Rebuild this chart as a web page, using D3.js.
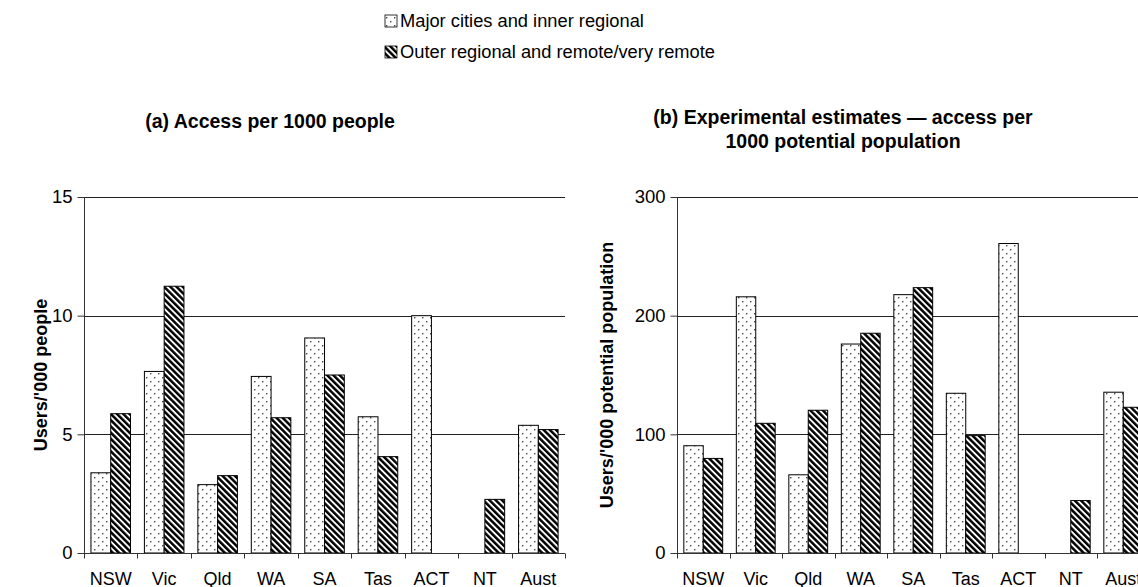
<!DOCTYPE html>
<html>
<head>
<meta charset="utf-8">
<script src="https://cdn.jsdelivr.net/npm/d3@7/dist/d3.min.js"></script>
<style>
  html, body { margin: 0; padding: 0; background: #fff; }
  svg { display: block; font-family: "Liberation Sans", Arial, sans-serif; }
</style>
</head>
<body>
<svg id="chart" width="1138" height="587"></svg>
<script>
// ---- data ----
const categories = ["NSW", "Vic", "Qld", "WA", "SA", "Tas", "ACT", "NT", "Aust"];
const seriesNames = ["Major cities and inner regional", "Outer regional and remote/very remote"];
// (a) Access per 1000 people
const accessMajor = [3.38, 7.65, 2.88, 7.44, 9.06, 5.74, 10.0, null, 5.38];
const accessOuter = [5.87, 11.24, 3.26, 5.70, 7.50, 4.06, null, 2.26, 5.20];
const ticksA = [0, 5, 10, 15];
// (b) Experimental estimates — access per 1000 potential population
const potMajor = [90.4, 215.9, 65.9, 176.1, 217.7, 134.6, 260.8, null, 135.5];
const potOuter = [79.7, 109.3, 120.3, 185.2, 223.6, 98.9, null, 44.2, 122.8];
const ticksB = [0, 100, 200, 300];

const titleA = ["(a) Access per 1000 people"];
const titleB = ["(b) Experimental estimates \u2014 access per", "1000 potential population"];
const yLabelA = "Users/'000 people";
const yLabelB = "Users/'000 potential population";

const svg = d3.select("#chart");
const defs = svg.append("defs");

// dotted pattern
const dot = defs.append("pattern").attr("id", "dots").attr("patternUnits", "userSpaceOnUse")
  .attr("width", 8).attr("height", 8);
dot.append("rect").attr("width", 8).attr("height", 8).attr("fill", "#fff");
dot.append("rect").attr("x", 2).attr("y", 1).attr("width", 1.4).attr("height", 1.4).attr("fill", "#444");
dot.append("rect").attr("x", 6).attr("y", 5).attr("width", 1.4).attr("height", 1.4).attr("fill", "#444");

// hatched pattern "\\"
const hatch = defs.append("pattern").attr("id", "hatch").attr("patternUnits", "userSpaceOnUse")
  .attr("width", 4.4).attr("height", 10).attr("patternTransform", "rotate(-45)");
hatch.append("rect").attr("width", 4.4).attr("height", 10).attr("fill", "#fff");
hatch.append("rect").attr("width", 2.5).attr("height", 10).attr("fill", "#000");

const fills = ["url(#dots)", "url(#hatch)"];

// legend
const legend = svg.append("g");
seriesNames.forEach((name, i) => {
  const y = 21 + i * 31;
  legend.append("rect").attr("x", 385).attr("y", y - 6).attr("width", 12).attr("height", 12)
    .attr("fill", fills[i]).attr("stroke", "#000").attr("stroke-width", 0.8);
  legend.append("text").attr("x", 400).attr("y", y).attr("dy", "0.35em")
    .attr("font-size", 18.3).attr("fill", "#000").text(name);
});

function drawPanel(opts) {
  const { x0, band, yMax, ticks, major, outer, title, titleX, titleY, yLabel, yLabelX } = opts;
  const y0 = 553, yTop = 197;
  const x = d3.scaleBand().domain(categories).range([x0, x0 + band * categories.length]).padding(0);
  const xs = d3.scaleBand().domain([0, 1]).range([band * 0.13, band * 0.87]).padding(0);
  const y = d3.scaleLinear().domain([0, yMax]).range([y0, yTop]);
  const g = svg.append("g");

  // gridlines
  g.append("g").selectAll("line").data(ticks.filter(t => t > 0)).join("line")
    .attr("x1", x0).attr("x2", x0 + band * categories.length)
    .attr("y1", d => Math.round(y(d)) + 0.5).attr("y2", d => Math.round(y(d)) + 0.5)
    .attr("stroke", "#222").attr("stroke-width", 1);

  // bars
  const data = [];
  categories.forEach((c, i) => {
    [major[i], outer[i]].forEach((v, s) => { if (v != null) data.push({ c, s, v }); });
  });
  g.append("g").selectAll("rect").data(data).join("rect")
    .attr("x", d => x(d.c) + xs(d.s))
    .attr("width", xs.bandwidth())
    .attr("y", d => y(d.v))
    .attr("height", d => y0 - y(d.v))
    .attr("fill", d => fills[d.s])
    .attr("stroke", "#000").attr("stroke-width", 1);

  // y axis
  const yAxis = d3.axisLeft(y).tickValues(ticks).tickSize(7).tickPadding(5).tickFormat(d3.format("d"));
  const ya = g.append("g").attr("transform", `translate(${x0 + 0.5},0)`).call(yAxis);
  ya.select(".domain").attr("stroke", "#333").attr("d", `M0,${y0}V${yTop}`);
  ya.selectAll(".tick line").attr("stroke", "#333");
  ya.selectAll("text").attr("font-size", 18.5).attr("fill", "#000").attr("font-family", "Liberation Sans, Arial, sans-serif");

  // x axis
  const xa = g.append("g").attr("transform", `translate(0,${y0 + 0.5})`);
  xa.append("line").attr("x1", x0).attr("x2", x0 + band * categories.length)
    .attr("stroke", "#333");
  xa.selectAll("line.tk").data(d3.range(categories.length + 1)).join("line").attr("class", "tk")
    .attr("x1", i => Math.round(x0 + i * band) + 0.5).attr("x2", i => Math.round(x0 + i * band) + 0.5)
    .attr("y1", 0).attr("y2", 5).attr("stroke", "#333");
  xa.selectAll("text").data(categories).join("text")
    .attr("x", d => x(d) + band / 2).attr("y", 31)
    .attr("text-anchor", "middle").attr("font-size", 18).attr("fill", "#000").text(d => d);

  // title
  title.forEach((t, i) => {
    g.append("text").attr("x", titleX).attr("y", titleY + i * 24).attr("text-anchor", "middle")
      .attr("font-size", 19.5).attr("font-weight", "bold").attr("fill", "#000").text(t);
  });

  // y label
  g.append("text").attr("transform", `translate(${yLabelX},${(y0 + yTop) / 2}) rotate(-90)`)
    .attr("text-anchor", "middle").attr("font-size", 18).attr("font-weight", "bold")
    .attr("fill", "#000").text(yLabel);
}

drawPanel({ x0: 84, band: 53.45, yMax: 15, ticks: ticksA, major: accessMajor, outer: accessOuter,
  title: titleA, titleX: 270, titleY: 128, yLabel: yLabelA, yLabelX: 47 });
drawPanel({ x0: 677, band: 52.5, yMax: 300, ticks: ticksB, major: potMajor, outer: potOuter,
  title: titleB, titleX: 843, titleY: 124, yLabel: yLabelB, yLabelX: 613 });
</script>
</body>
</html>
